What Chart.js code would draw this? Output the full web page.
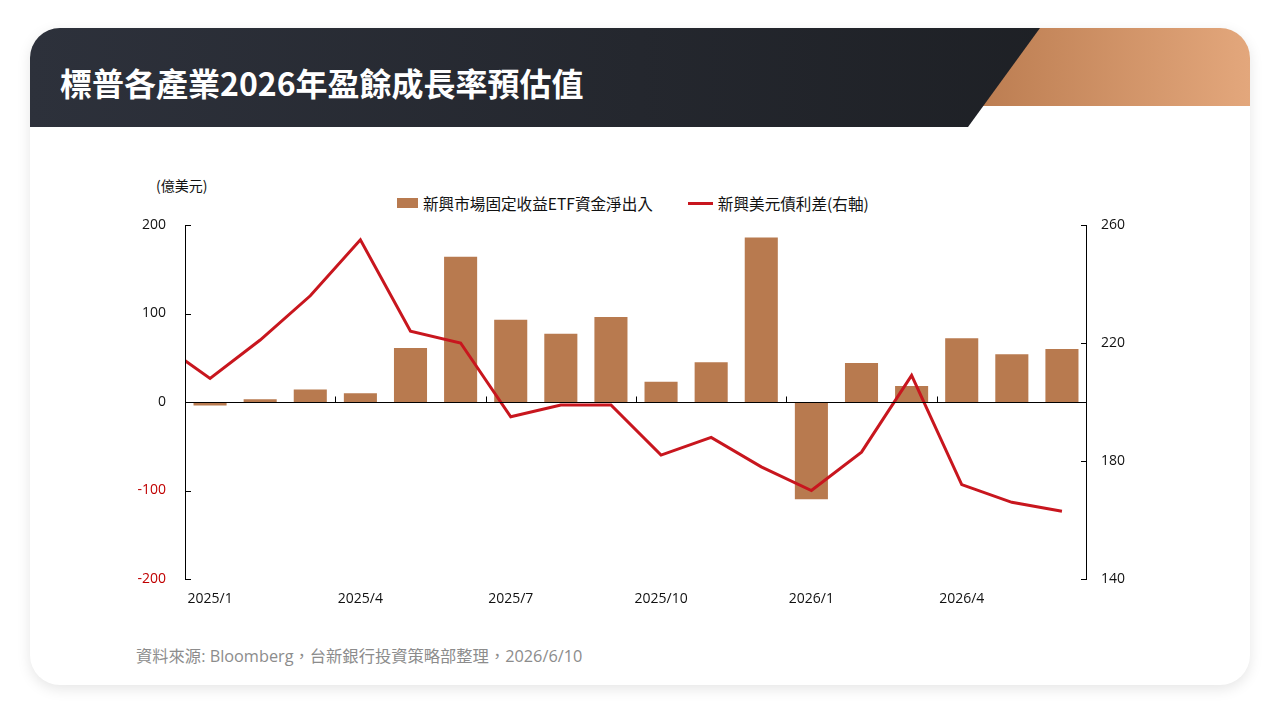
<!DOCTYPE html>
<html>
<head>
<meta charset="utf-8">
<script src="https://cdn.jsdelivr.net/npm/chart.js@4.4.1/dist/chart.umd.min.js"></script>
<style>
  html, body { margin: 0; padding: 0; background: #fff; }
  body { width: 1280px; height: 720px; position: relative; overflow: hidden; font-family: "Open Sans", "Noto Sans CJK TC", sans-serif; }
  .card { position: absolute; left: 30px; top: 28px; width: 1220px; height: 657px; background: #fff; border-radius: 30px; overflow: hidden; box-shadow: 0 4px 14px rgba(0,0,0,0.10); }
  .hd-orange { position: absolute; left: 930px; top: 0; width: 290px; height: 78px; background: linear-gradient(90deg, #b97a4e, #e3a77c); }
  .hd-dark { position: absolute; left: 0; top: 0; width: 1220px; height: 99px; background: linear-gradient(90deg, #2d313b, #1b1d21); clip-path: polygon(0 0, 1010px 0, 938px 99px, 0 99px); }
  .title { position: absolute; left: 30px; top: 31px; color: #fff; font: bold 32px "Noto Sans CJK TC", sans-serif; }
  .unit { position: absolute; left: 156px; top: 175px; font-size: 14px; color: #111; font-family: "Noto Sans CJK TC", sans-serif; }
  .legend { position: absolute; top: 192px; left: 397px; font-size: 15.6px; color: #111; display: flex; align-items: center; font-family: "Noto Sans CJK TC", sans-serif; }
  .legend .sq { width: 21px; height: 10px; background: #b87a4f; margin-right: 5px; }
  .legend .ln { width: 25px; height: 3px; background: #c8161e; margin-left: 35px; margin-right: 5px; }
  .source { position: absolute; left: 136px; top: 643px; font-size: 16.3px; color: #8c8c8c; font-family: "Open Sans", "Noto Sans CJK TC", sans-serif; }
  canvas { position: absolute; left: 0; top: 0; }
</style>
</head>
<body>
<div class="card">
  <div class="hd-orange"></div>
  <div class="hd-dark"></div>
  <div class="title">標普各產業2026年盈餘成長率預估值</div>
</div>
<div class="unit">(億美元)</div>
<div class="legend"><span class="sq"></span>新興市場固定收益ETF資金淨出入<span class="ln"></span>新興美元債利差(右軸)</div>
<div class="source">資料來源: Bloomberg，台新銀行投資策略部整理，2026/6/10</div>
<canvas id="chart" width="1280" height="720"></canvas>

<script>
//============================================= Data =============================================//
const months = ['2025/1', '2025/2', '2025/3', '2025/4', '2025/5', '2025/6', '2025/7', '2025/8', '2025/9',
    '2025/10', '2025/11', '2025/12', '2026/1', '2026/2', '2026/3', '2026/4', '2026/5', '2026/6'];
// ETF flows (left axis, 億美元)
const etfFlows = [-4, 3, 14, 10, 61, 164, 93, 77, 96, 23, 45, 186, -110, 44, 18, 72, 54, 60];
// spread (right axis); spreadPrev is 2024/12, only its segment into the plot shows
const spreadPrev = 220;
const spread = [208, 221, 236, 255, 224, 220, 195, 199, 199, 182, 188, 178, 170, 183, 209, 172, 166, 163];
const leftTicks = [-200, -100, 0, 100, 200];
const rightTicks = [140, 180, 220, 260];

const barPoints = etfFlows.map((v, i) => ({x: i, y: v}));
const spreadPoints = [{x: -1, y: spreadPrev}].concat(spread.map((v, i) => ({x: i, y: v})));

//============================================= Axis marks =============================================//
const axisMarks = {
    id: 'axisMarks',
    afterDatasetsDraw(chart) {
        const {ctx, chartArea: a, scales} = chart;
        ctx.save();
        ctx.strokeStyle = '#000';
        ctx.lineWidth = 1;
        ctx.beginPath();
        // left / right axis lines
        ctx.moveTo(a.left + 0.5, a.top); ctx.lineTo(a.left + 0.5, a.bottom);
        ctx.moveTo(a.right - 0.5, a.top); ctx.lineTo(a.right - 0.5, a.bottom);
        leftTicks.forEach(v => {
            const y = Math.round(scales.y.getPixelForValue(v)) + 0.5;
            ctx.moveTo(a.left, y); ctx.lineTo(a.left + 6, y);
        });
        rightTicks.forEach(v => {
            const y = Math.round(scales.y1.getPixelForValue(v)) + 0.5;
            ctx.moveTo(a.right, y); ctx.lineTo(a.right - 6, y);
        });
        // zero line with quarter ticks
        const y0 = Math.round(scales.y.getPixelForValue(0)) + 0.5;
        ctx.moveTo(a.left, y0); ctx.lineTo(a.right, y0);
        for (let i = 3; i < months.length; i += 3) {
            const x = Math.round(scales.x.getPixelForValue(i - 0.5)) + 0.5;
            ctx.moveTo(x, y0); ctx.lineTo(x, y0 - 6);
        }
        ctx.stroke();
        ctx.restore();
    }
};

//============================================= Chart =============================================//
const tickFont = {family: '"Open Sans", sans-serif', size: 14};

new Chart(document.getElementById('chart'), {
    type: 'bar',
    data: {
        datasets: [
            {
                label: '新興市場固定收益ETF資金淨出入',
                data: barPoints,
                backgroundColor: '#b87a4f',
                categoryPercentage: 1,
                barPercentage: 0.66,
                yAxisID: 'y',
                order: 2
            },
            {
                type: 'line',
                label: '新興美元債利差(右軸)',
                data: spreadPoints,
                borderColor: '#c8161e',
                borderWidth: 3,
                pointRadius: 0,
                tension: 0,
                clip: 0,
                yAxisID: 'y1',
                order: 1
            }
        ]
    },
    options: {
        responsive: false,
        animation: false,
        layout: {
            padding: {left: 100, right: 130, top: 225, bottom: 100}
        },
        plugins: {
            legend: {display: false},
            tooltip: {enabled: false}
        },
        scales: {
            x: {
                type: 'linear',
                min: -0.5,
                max: months.length - 0.5,
                offset: false,
                grid: {display: false, drawTicks: false, offset: false},
                border: {display: false},
                afterBuildTicks: s => { s.ticks = months.map((m, i) => ({value: i})); },
                ticks: {
                    autoSkip: false,
                    maxRotation: 0,
                    padding: 12,
                    color: '#111',
                    font: tickFont,
                    callback: v => v % 3 === 0 ? months[v] : ''
                },
                afterFit: s => { s.height = 41; }
            },
            y: {
                position: 'left',
                min: -200,
                max: 200,
                grid: {display: false, drawTicks: false},
                border: {display: false},
                ticks: {
                    stepSize: 100,
                    padding: 19,
                    font: tickFont,
                    color: c => c.tick.value < 0 ? '#c00000' : '#111'
                },
                afterFit: s => { s.width = 85; }
            },
            y1: {
                position: 'right',
                min: 140,
                max: 260,
                grid: {display: false, drawTicks: false},
                border: {display: false},
                ticks: {
                    stepSize: 40,
                    padding: 14,
                    font: tickFont,
                    color: '#111'
                },
                afterFit: s => { s.width = 63; }
            }
        }
    },
    plugins: [axisMarks]
});
</script>
</body>
</html>
